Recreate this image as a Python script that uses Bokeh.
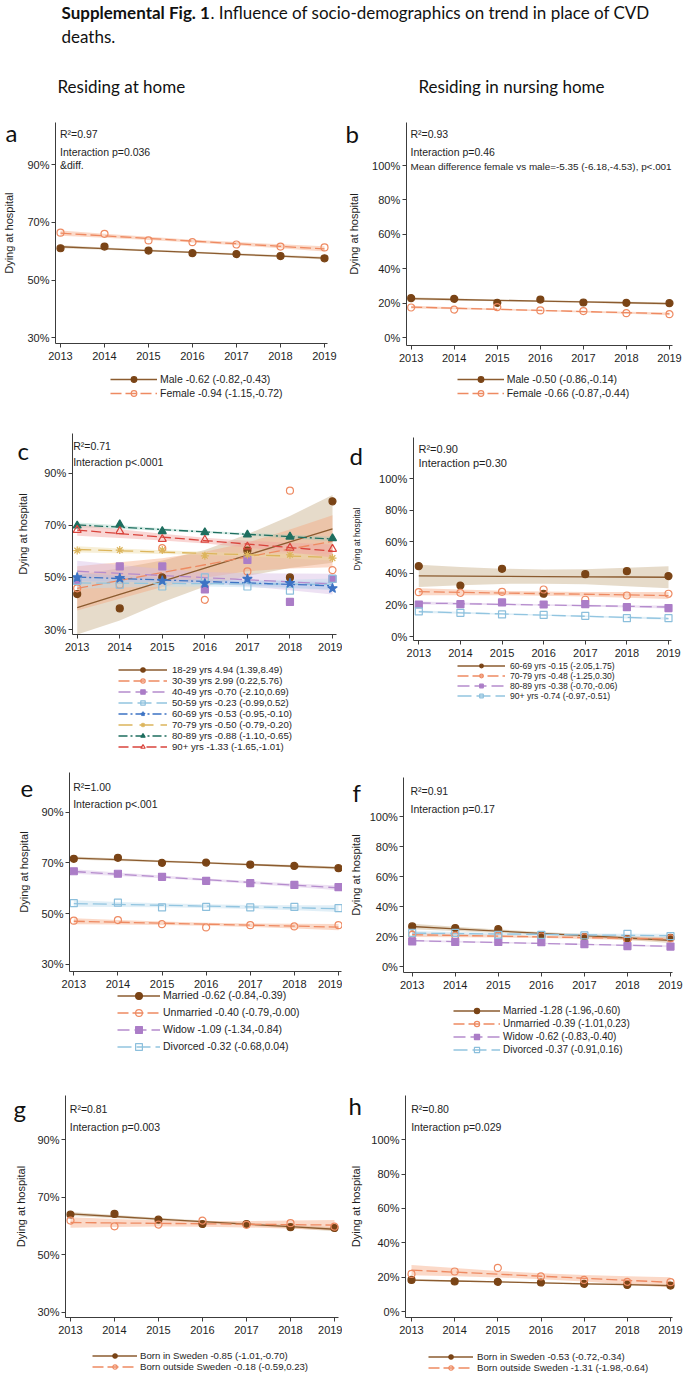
import numpy as np
from bokeh.plotting import figure
from bokeh.models import Range1d, FixedTicker, Label, Legend, LegendItem
from bokeh.layouts import column, row
from bokeh.embed import file_html
from bokeh.resources import INLINE

nan = float("nan")
years = [2013, 2014, 2015, 2016, 2017, 2018, 2019]
ticks_home = [30, 50, 70, 90]
ticks_nursing = [0, 20, 40, 60, 80, 100]

# ---------------- a : sex, residing at home
a_labels = ["Male -0.62 (-0.82,-0.43)", "Female -0.94 (-1.15,-0.72)"]
a_male = [61.0, 61.6, 60.2, 59.3, 59.0, 58.3, 57.5]
a_female = [66.4, 66.0, 63.7, 63.1, 62.3, 61.6, 61.3]
a_male_ci = [0.5, 0.4, 0.35, 0.3, 0.35, 0.4, 0.5]
a_female_ci = [0.9, 0.7, 0.55, 0.5, 0.55, 0.7, 0.9]
a_notes = ["R²=0.97", "Interaction p=0.036", "&diff."]

# ---------------- b : sex, nursing home
b_labels = ["Male -0.50 (-0.86,-0.14)", "Female -0.66 (-0.87,-0.44)"]
b_male = [23.0, 22.6, 20.3, 22.2, 20.5, 20.3, 20.1]
b_female = [17.6, 16.4, 17.8, 15.9, 15.5, 14.3, 13.7]
b_male_ci = [0.8, 0.6, 0.5, 0.45, 0.5, 0.6, 0.8]
b_female_ci = [0.8, 0.6, 0.5, 0.45, 0.5, 0.6, 0.8]
b_notes = ["R²=0.93", "Interaction p=0.46",
           "Mean difference female vs male=-5.35 (-6.18,-4.53), p<.001"]

# ---------------- c : age, residing at home
c_labels = ["18-29 yrs 4.94 (1.39,8.49)", "30-39 yrs 2.99 (0.22,5.76)",
            "40-49 yrs -0.70 (-2.10,0.69)", "50-59 yrs -0.23 (-0.99,0.52)",
            "60-69 yrs -0.53 (-0.95,-0.10)", "70-79 yrs -0.50 (-0.79,-0.20)",
            "80-89 yrs -0.88 (-1.10,-0.65)", "90+ yrs -1.33 (-1.65,-1.01)"]
c_18_29 = [43.6, 38.1, 50.0, nan, 60.3, 50.0, 79.2]
c_30_39 = [45.8, 47.2, 61.2, 41.4, 52.3, 83.3, 52.8]
c_40_49 = [48.8, 54.2, 54.2, 45.4, 56.7, 40.6, 49.4]
c_50_59 = [48.7, 47.2, 46.5, 50.0, 46.5, 44.9, 49.4]
c_60_69 = [50.0, 49.7, 48.7, 47.7, 49.4, 47.8, 45.8]
c_70_79 = [60.3, 60.5, 60.5, 58.3, 58.7, 58.7, 57.4]
c_80_89 = [69.9, 70.3, 67.7, 67.3, 66.4, 65.6, 65.0]
c_90 = [68.2, 67.7, 64.7, 64.4, 61.8, 61.3, 60.9]
c_18_29_ci = [12.5, 10.0, 8.0, 7.0, 8.0, 10.0, 13.0]
c_30_39_ci = [8.5, 7.0, 5.5, 5.0, 5.5, 7.5, 10.0]
c_40_49_ci = [4.0, 3.2, 2.5, 2.2, 2.5, 3.2, 4.0]
c_50_59_ci = [2.2, 1.7, 1.3, 1.1, 1.3, 1.7, 2.2]
c_60_69_ci = [1.5, 1.2, 0.9, 0.8, 0.9, 1.2, 1.5]
c_70_79_ci = [1.2, 0.9, 0.7, 0.6, 0.7, 0.9, 1.2]
c_80_89_ci = [0.9, 0.7, 0.5, 0.45, 0.5, 0.7, 0.9]
c_90_ci = [2.2, 1.7, 1.3, 1.1, 1.3, 1.8, 2.5]
c_notes = ["R²=0.71", "Interaction p<.0001"]

# ---------------- d : age, nursing home
d_labels = ["60-69 yrs -0.15 (-2.05,1.75)", "70-79 yrs -0.48 (-1.25,0.30)",
            "80-89 yrs -0.38 (-0.70,-0.06)", "90+ yrs -0.74 (-0.97,-0.51)"]
d_60_69 = [44.6, 32.3, 42.9, 27.1, 39.5, 41.4, 38.3]
d_70_79 = [28.1, 27.7, 28.3, 29.8, 23.3, 26.0, 27.1]
d_80_89 = [20.3, 20.5, 21.6, 20.3, 20.5, 18.6, 18.0]
d_90 = [15.9, 15.0, 14.0, 13.7, 13.1, 11.6, 11.6]
d_60_69_ci = [7.0, 5.8, 4.8, 4.5, 4.8, 5.8, 7.0]
d_70_79_ci = [2.2, 1.8, 1.4, 1.3, 1.4, 1.8, 2.2]
d_80_89_ci = [0.9, 0.7, 0.55, 0.5, 0.55, 0.7, 0.9]
d_90_ci = [0.8, 0.6, 0.5, 0.45, 0.5, 0.6, 0.8]
d_notes = ["R²=0.90", "Interaction p=0.30"]

# ---------------- e : marital status, residing at home
e_labels = ["Married -0.62 (-0.84,-0.39)", "Unmarried -0.40 (-0.79,-0.00)",
            "Widow -1.09 (-1.34,-0.84)", "Divorced -0.32 (-0.68,0.04)"]
e_married = [71.6, 72.0, 70.0, 70.1, 69.3, 68.8, 67.9]
e_unmarried = [47.2, 47.4, 45.8, 44.5, 45.4, 44.9, 45.4]
e_widow = [66.7, 65.7, 64.5, 62.9, 62.0, 61.3, 60.4]
e_divorced = [54.1, 54.3, 52.4, 52.6, 52.4, 52.6, 52.1]
e_married_ci = [0.6, 0.5, 0.4, 0.35, 0.4, 0.5, 0.6]
e_unmarried_ci = [1.2, 0.9, 0.7, 0.6, 0.7, 0.9, 1.2]
e_widow_ci = [0.9, 0.7, 0.55, 0.5, 0.55, 0.7, 0.9]
e_divorced_ci = [1.3, 1.0, 0.8, 0.7, 0.8, 1.0, 1.3]
e_notes = ["R²=1.00", "Interaction p<.001"]

# ---------------- f : marital status, nursing home
f_labels = ["Married -1.28 (-1.96,-0.60)", "Unmarried -0.39 (-1.01,0.23)",
            "Widow -0.62 (-0.83,-0.40)", "Divorced -0.37 (-0.91,0.16)"]
f_married = [26.7, 25.6, 24.9, 20.4, 19.6, 18.2, 19.1]
f_unmarried = [21.1, 20.6, 20.4, 20.0, 19.4, 18.0, 18.7]
f_widow = [16.7, 16.4, 16.4, 16.2, 14.9, 13.6, 13.3]
f_divorced = [22.4, 22.4, 21.1, 21.1, 20.7, 21.8, 20.2]
f_married_ci = [1.8, 1.4, 1.1, 1.0, 1.1, 1.4, 1.8]
f_unmarried_ci = [1.5, 1.2, 0.9, 0.8, 0.9, 1.2, 1.5]
f_widow_ci = [0.7, 0.55, 0.45, 0.4, 0.45, 0.55, 0.7]
f_divorced_ci = [1.4, 1.1, 0.9, 0.8, 0.9, 1.1, 1.4]
f_notes = ["R²=0.91", "Interaction p=0.17"]

# ---------------- g : country of birth, residing at home
g_labels = ["Born in Sweden -0.85 (-1.01,-0.70)", "Born outside Sweden -0.18 (-0.59,0.23)"]
g_sweden = [64.0, 64.2, 62.2, 60.7, 60.7, 59.6, 59.3]
g_outside = [61.9, 59.9, 60.5, 61.9, 60.4, 61.0, 59.8]
g_sweden_ci = [0.7, 0.55, 0.45, 0.4, 0.45, 0.55, 0.7]
g_outside_ci = [1.8, 1.4, 1.1, 1.0, 1.1, 1.4, 1.8]
g_notes = ["R²=0.81", "Interaction p=0.003"]

# ---------------- h : country of birth, nursing home
h_labels = ["Born in Sweden -0.53 (-0.72,-0.34)", "Born outside Sweden -1.31 (-1.98,-0.64)"]
h_sweden = [18.4, 17.5, 17.3, 16.9, 16.1, 15.5, 15.1]
h_outside = [21.9, 23.3, 25.4, 20.4, 18.4, 17.3, 17.1]
h_sweden_ci = [0.6, 0.5, 0.4, 0.35, 0.4, 0.5, 0.6]
h_outside_ci = [3.0, 2.4, 1.9, 1.7, 1.9, 2.4, 3.0]
h_notes = ["R²=0.80", "Interaction p=0.029"]

title_bold = "Supplemental Fig. 1"
title_rest = ". Influence of socio-demographics on trend in place of CVD"
title_line2 = "deaths."
col_titles = ["Residing at home", "Residing in nursing home"]
y_title = "Dying at hospital"

# ---------------- styles
STY = {
    "brown":  dict(line="#8b5b2f", mark="#7a4416", marker="circle", hollow=False, dash="solid", size=7, band="#cdb895", alpha=0.5),
    "orange": dict(line="#ee8a62", mark="#ee8a62", marker="circle", hollow=True, dash="11 4", size=7, band="#f6a57d", alpha=0.42),
    "purple": dict(line="#b58ccd", mark="#ab7dc7", marker="square", hollow=False, dash="12 5", size=7, band="#d3b8e3", alpha=0.42),
    "lblue":  dict(line="#92c5e0", mark="#8cbfdc", marker="square", hollow=True, dash="14 5", size=7, band="#bcdbee", alpha=0.45),
    "blue":   dict(line="#3d73c4", mark="#3d73c4", marker="star", hollow=False, dash="9 3 2 3", size=10, band="#a9bde8", alpha=0.35),
    "tan":    dict(line="#dcb55c", mark="#dcb55c", marker="asterisk", hollow=False, dash="14 7", size=8, band="#eedca6", alpha=0.45),
    "teal":   dict(line="#1e6e5f", mark="#1e6e5f", marker="triangle", hollow=False, dash="9 3 2 3", size=8, band="#8fcabb", alpha=0.35),
    "red":    dict(line="#d9443c", mark="#d9443c", marker="triangle", hollow=True, dash="10 4", size=8, band="#f2a3a0", alpha=0.45),
}
AX = "#3c3c3c"
FONT = "Liberation Sans"
TXT = "#1e1e1e"


def blank(x0, x1, y0, y1):
    """Figure whose data coordinates are page pixels (y downwards)."""
    f = figure(width=int(x1 - x0), height=int(y1 - y0), output_backend="svg",
               toolbar_location=None, x_range=Range1d(x0, x1), y_range=Range1d(y1, y0),
               x_axis_type=None, y_axis_type=None, min_border=0)
    f.outline_line_color = None
    f.grid.visible = False
    return f


def make_panel(cell, geo, series, yticks, letter, letter_pos, ylab_x, ylab_size,
               notes, note_x, note_ys, note_sizes, leg):
    cx0, cx1, cy0, cy1 = cell
    L, R, T, B = geo["L"], geo["R"], geo["T"], geo["B"]
    pxpy = (geo["x19"] - geo["x13"]) / 6.0
    ppp = (geo["p2"] - geo["p1"]) / (geo["v1"] - geo["v2"])

    def X(px):
        return float(2013 + (px - geo["x13"]) / pxpy)

    def Y(py):
        return float(geo["v1"] - (py - geo["p1"]) / ppp)

    p = figure(width=cx1 - cx0, height=cy1 - cy0, output_backend="svg", toolbar_location=None,
               x_range=Range1d(X(cx0), X(cx1)), y_range=Range1d(Y(cy1), Y(cy0)),
               min_border=0)
    p.outline_line_color = None
    p.grid.visible = False

    for ax in (p.xaxis[0], p.yaxis[0]):
        ax.axis_line_color = AX
        ax.axis_line_width = 1
        ax.major_tick_line_color = AX
        ax.major_tick_out = 4
        ax.major_tick_in = 0
        ax.minor_tick_line_color = None
        ax.major_label_text_font = FONT
        ax.major_label_text_font_size = "11px"
        ax.major_label_text_color = TXT
    p.xaxis.ticker = FixedTicker(ticks=years)
    p.xaxis.major_label_standoff = 4
    p.xaxis.fixed_location = Y(B)
    p.xaxis.bounds = (X(L), X(R))
    p.yaxis.ticker = FixedTicker(ticks=yticks)
    p.yaxis.major_label_overrides = {t: f"{t}%" for t in yticks}
    p.yaxis.major_label_standoff = 2
    p.yaxis.fixed_location = X(L)
    p.yaxis.bounds = (Y(B), Y(T))

    ybot, ytop = Y(B), Y(T)
    xs = np.array(years, dtype=float)
    fits = []
    for lab, vals, ci, sk in series:
        v = np.array(vals, dtype=float)
        m = ~np.isnan(v)
        coef = np.polyfit(xs[m], v[m], 1)
        fit = np.polyval(coef, xs)
        fits.append(fit)
        s = STY[sk]
        lo = np.maximum(fit - np.array(ci), ybot)
        hi = np.minimum(fit + np.array(ci), ytop)
        p.varea(x=xs, y1=lo, y2=hi, fill_color=s["band"], fill_alpha=s["alpha"])
    line_rs = []
    for (lab, vals, ci, sk), fit in zip(series, fits):
        s = STY[sk]
        line_rs.append(p.line(xs, fit, line_color=s["line"], line_width=1.3, line_dash=s["dash"]))
    items = []
    for (lab, vals, ci, sk), lr in zip(series, line_rs):
        s = STY[sk]
        sr = p.scatter(xs, np.array(vals, dtype=float), marker=s["marker"], size=s["size"],
                       line_color=s["mark"], line_width=1.2,
                       fill_color=None if s["hollow"] else s["mark"])
        items.append(LegendItem(label=lab, renderers=[lr, sr]))

    rowh = int(round(leg["row"]))
    n = len(series)
    leg_bottom = leg["y1"] - rowh / 2.0 + n * rowh
    legend = Legend(items=items, location=(float(leg["x"] - cx0), float(cy1 - leg_bottom)),
                    orientation="vertical", glyph_width=leg["gw"],
                    glyph_height=rowh, label_height=rowh,
                    spacing=0, padding=0, margin=0, label_standoff=leg["standoff"],
                    label_text_font=FONT, label_text_font_size=f"{leg['size']}px",
                    label_text_color=TXT,
                    background_fill_alpha=0, border_line_alpha=0)
    p.add_layout(legend)

    for txt, ny, ns in zip(notes, note_ys, note_sizes):
        p.add_layout(Label(x=X(note_x), y=Y(ny), text=txt,
                           text_font=FONT, text_font_size=f"{ns}px",
                           text_color=TXT, text_align="left", text_baseline="middle"))
    p.add_layout(Label(x=X(letter_pos[0]), y=Y(letter_pos[1]), text=letter, text_font="Lato",
                       text_font_size="24px", text_color="#111111",
                       text_align="left", text_baseline="alphabetic"))
    p.add_layout(Label(x=X(ylab_x), y=Y((T + B) / 2.0), text=y_title, angle=np.pi / 2,
                       text_font=FONT, text_font_size=f"{ylab_size}px", text_color=TXT,
                       text_align="center", text_baseline="middle"))
    return p


# ---------------- header
hdr = blank(0, 685, 0, 108)
hdr.add_layout(Label(x=61, y=12, text=title_bold, text_font="Lato", text_font_style="bold",
                     text_font_size="17px", text_baseline="middle", text_color="#111111"))
hdr.add_layout(Label(x=210, y=12, text=title_rest, text_font="Lato",
                     text_font_size="17px", text_baseline="middle", text_color="#111111"))
hdr.add_layout(Label(x=61, y=36, text=title_line2, text_font="Lato",
                     text_font_size="17px", text_baseline="middle", text_color="#111111"))
hdr.add_layout(Label(x=57, y=86, text=col_titles[0], text_font="Lato",
                     text_font_size="17px", text_baseline="middle", text_color="#111111"))
hdr.add_layout(Label(x=418, y=86, text=col_titles[1], text_font="Lato",
                     text_font_size="17px", text_baseline="middle", text_color="#111111"))

# ---------------- row 1
pa = make_panel((0, 342, 108, 420),
                dict(L=55, x13=60, x19=324, R=327, T=122, B=343.3, v1=90, p1=164, v2=30, p2=337.3),
                [(a_labels[0], a_male, a_male_ci, "brown"), (a_labels[1], a_female, a_female_ci, "orange")],
                ticks_home, "a", (5, 132), 8, 11, a_notes, 59.5, [133.3, 151.7, 164], [10.5, 10.5, 10.5],
                dict(x=110, y1=379, row=14, gw=47, standoff=3, size=10.5))
pb = make_panel((342, 685, 108, 420),
                dict(L=405.7, x13=410.7, x19=669, R=672, T=122, B=345, v1=100, p1=165, v2=0, p2=337.3),
                [(b_labels[0], b_male, b_male_ci, "brown"), (b_labels[1], b_female, b_female_ci, "orange")],
                ticks_nursing, "b", (345, 133), 353, 11, b_notes, 410, [133.3, 151.7, 165.7], [10.5, 10.5, 9.9],
                dict(x=456.7, y1=379.3, row=14, gw=47, standoff=3, size=10.5))

# ---------------- row 2
pc = make_panel((0, 342, 420, 765),
                dict(L=71.7, x13=76.7, x19=332, R=336, T=433, B=634, v1=90, p1=472.7, v2=30, p2=629),
                [(c_labels[0], c_18_29, c_18_29_ci, "brown"), (c_labels[1], c_30_39, c_30_39_ci, "orange"),
                 (c_labels[2], c_40_49, c_40_49_ci, "purple"), (c_labels[3], c_50_59, c_50_59_ci, "lblue"),
                 (c_labels[4], c_60_69, c_60_69_ci, "blue"), (c_labels[5], c_70_79, c_70_79_ci, "tan"),
                 (c_labels[6], c_80_89, c_80_89_ci, "teal"), (c_labels[7], c_90, c_90_ci, "red")],
                ticks_home, "c", (17, 450), 22, 11, c_notes, 72.7, [445, 461.7], [10.5, 10.5],
                dict(x=118, y1=669, row=11, gw=49, standoff=5, size=9.6))
pd = make_panel((342, 685, 420, 765),
                dict(L=412.7, x13=418.3, x19=668, R=671, T=437, B=640, v1=100, p1=478.3, v2=0, p2=636),
                [(d_labels[0], d_60_69, d_60_69_ci, "brown"), (d_labels[1], d_70_79, d_70_79_ci, "orange"),
                 (d_labels[2], d_80_89, d_80_89_ci, "purple"), (d_labels[3], d_90, d_90_ci, "lblue")],
                ticks_nursing, "d", (349, 455), 356, 8.5, d_notes, 418, [448.3, 462.3], [11, 11],
                dict(x=457, y1=669, row=9, gw=48, standoff=5, size=8.6))

# ---------------- row 3
pe = make_panel((0, 342, 765, 1075),
                dict(L=69, x13=73.3, x19=338, R=341, T=772, B=971, v1=90, p1=811.7, v2=30, p2=963.7),
                [(e_labels[0], e_married, e_married_ci, "brown"), (e_labels[1], e_unmarried, e_unmarried_ci, "orange"),
                 (e_labels[2], e_widow, e_widow_ci, "purple"), (e_labels[3], e_divorced, e_divorced_ci, "lblue")],
                ticks_home, "e", (20, 788), 23, 11, e_notes, 72.7, [786.7, 803.3], [10.5, 10.5],
                dict(x=117, y1=995, row=17, gw=43, standoff=3, size=10.5))
pf = make_panel((342, 685, 765, 1075),
                dict(L=403.3, x13=411.7, x19=670, R=672, T=777, B=972, v1=40, p1=906, v2=0, p2=966),
                [(f_labels[0], f_married, f_married_ci, "brown"), (f_labels[1], f_unmarried, f_unmarried_ci, "orange"),
                 (f_labels[2], f_widow, f_widow_ci, "purple"), (f_labels[3], f_divorced, f_divorced_ci, "lblue")],
                ticks_nursing, "f", (352, 792), 355, 11, f_notes, 410, [790, 808.3], [10.5, 10.5],
                dict(x=453, y1=1010.7, row=13, gw=47, standoff=3, size=10))

# ---------------- row 4
pg = make_panel((0, 342, 1075, 1377),
                dict(L=65, x13=70, x19=334, R=338, T=1095, B=1317, v1=90, p1=1139.3, v2=30, p2=1311.7),
                [(g_labels[0], g_sweden, g_sweden_ci, "brown"), (g_labels[1], g_outside, g_outside_ci, "orange")],
                ticks_home, "g", (13, 1108), 20, 11, g_notes, 69.3, [1108.3, 1126.7], [10.5, 10.5],
                dict(x=92, y1=1355, row=11, gw=45, standoff=3, size=9.6))
ph = make_panel((342, 685, 1075, 1377),
                dict(L=405, x13=411, x19=670, R=672, T=1095, B=1317, v1=100, p1=1139.3, v2=0, p2=1311),
                [(h_labels[0], h_sweden, h_sweden_ci, "brown"), (h_labels[1], h_outside, h_outside_ci, "orange")],
                ticks_nursing, "h", (348, 1105), 355, 11, h_notes, 410.7, [1108.3, 1126.7], [10.5, 10.5],
                dict(x=428, y1=1356, row=11, gw=45, standoff=4, size=9.6))

layout = column(hdr, row(pa, pb), row(pc, pd), row(pe, pf), row(pg, ph))
open("out.html", "w").write(file_html(layout, INLINE, title="Supplemental Fig. 1"))
